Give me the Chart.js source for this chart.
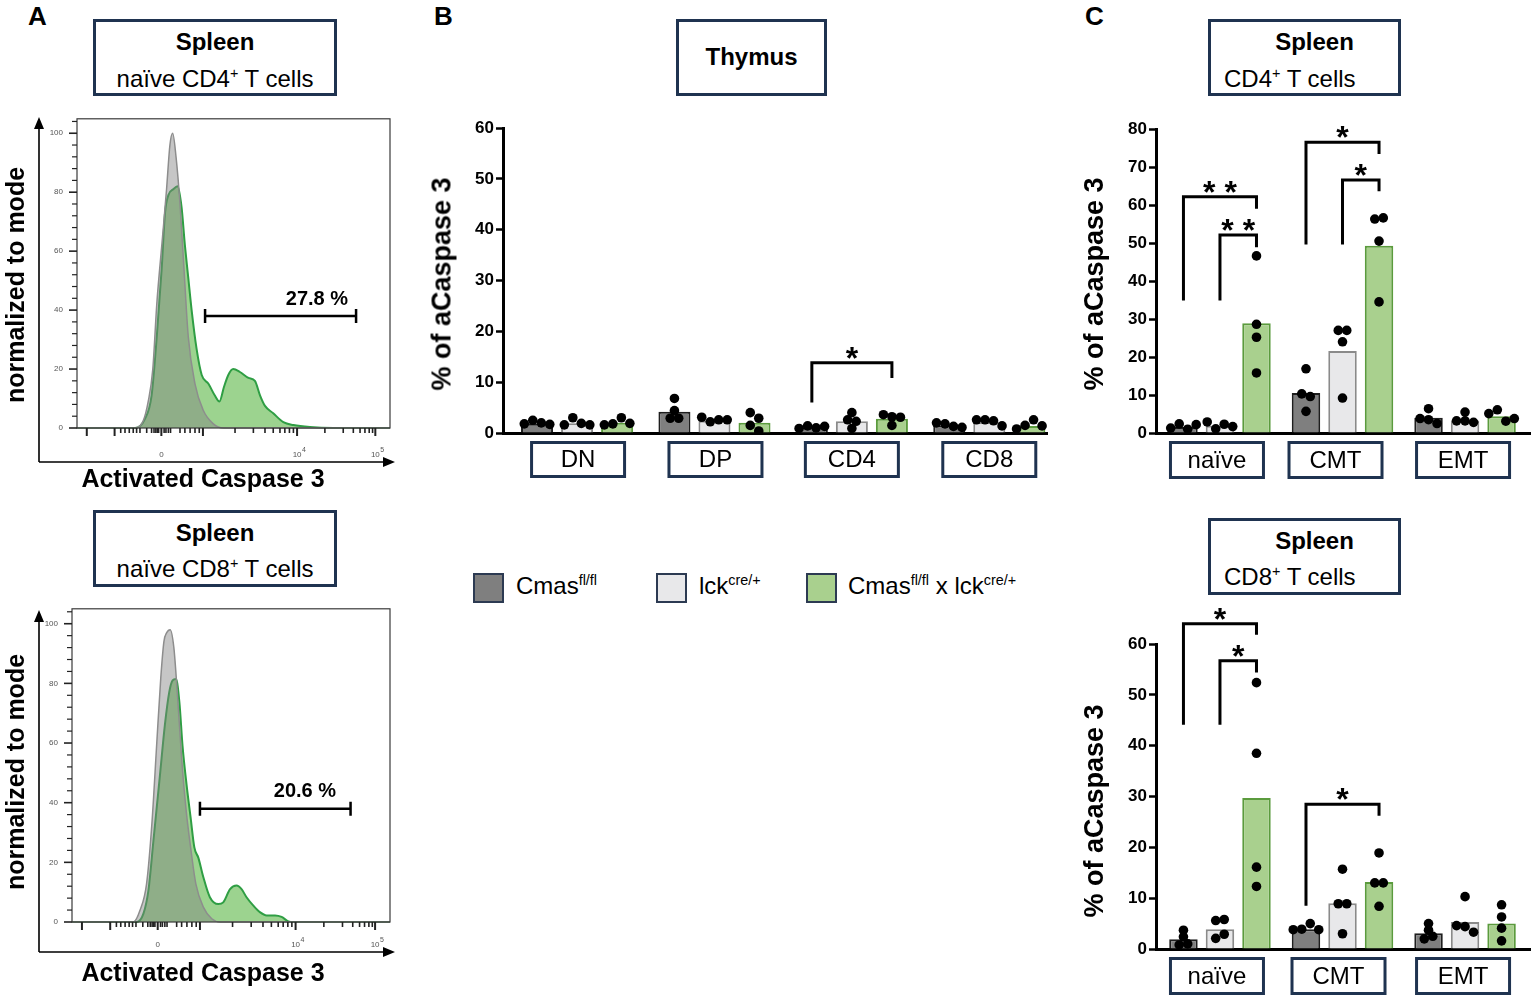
<!DOCTYPE html>
<html lang="en">
<head>
<meta charset="utf-8">
<title>Activated caspase 3</title>
<script src="https://cdn.jsdelivr.net/npm/chart.js@4.4.1/dist/chart.umd.min.js"></script>
<style>
  html, body { margin: 0; padding: 0; background: #fff; }
  body { position: relative; width: 1535px; height: 997px; overflow: hidden;
         font-family: "Liberation Sans", Arial, Helvetica, sans-serif; color: #000; }
  canvas { position: absolute; }
  .letter { position: absolute; font-weight: bold; font-size: 26px; line-height: 26px; }
  .tbox { position: absolute; box-sizing: border-box; border: 3px solid #1f3350; background: #fff; }
  .tbox div { position: absolute; white-space: nowrap; line-height: 28px; }
  .tbox .b { font-weight: bold; font-size: 24px; }
  .tbox .n { font-size: 24px; }
  sup { font-size: 60%; line-height: 0; vertical-align: 0; position: relative; top: -0.6em; }
  .rot { position: absolute; transform: translate(-50%, -50%) rotate(-90deg); white-space: nowrap; font-weight: bold; }
  .xlab { position: absolute; transform: translate(-50%, -50%); white-space: nowrap; font-weight: bold; font-size: 25px; }
  .leg { position: absolute; font-size: 24px; line-height: 30px; white-space: nowrap; }
  .sw { position: absolute; width: 31px; height: 30px; box-sizing: border-box; border: 2px solid #2c3a52; }
</style>
</head>
<body>

<canvas id="histCD4" width="410" height="400" style="left:0;top:100px;width:410px;height:400px"></canvas>
<canvas id="histCD8" width="410" height="400" style="left:0;top:590px;width:410px;height:400px"></canvas>
<canvas id="thymus" width="640" height="390" style="left:420px;top:100px;width:640px;height:390px"></canvas>
<canvas id="spleenCD4" width="470" height="390" style="left:1065px;top:100px;width:470px;height:390px"></canvas>
<canvas id="spleenCD8" width="470" height="409" style="left:1065px;top:588px;width:470px;height:409px"></canvas>

<div class="letter" style="left:28px;top:3px">A</div>
<div class="letter" style="left:434px;top:3px">B</div>
<div class="letter" style="left:1085px;top:3px">C</div>

<div class="tbox" style="left:93px;top:19px;width:244px;height:77px">
  <div class="b" style="left:0;right:0;text-align:center;top:6px">Spleen</div>
  <div class="n" style="left:0;right:0;text-align:center;top:43px">naïve CD4<sup>+</sup> T cells</div>
</div>
<div class="tbox" style="left:93px;top:510px;width:244px;height:77px">
  <div class="b" style="left:0;right:0;text-align:center;top:6px">Spleen</div>
  <div class="n" style="left:0;right:0;text-align:center;top:42px">naïve CD8<sup>+</sup> T cells</div>
</div>
<div class="tbox" style="left:676px;top:19px;width:151px;height:77px">
  <div class="b" style="left:0;right:0;text-align:center;top:21px">Thymus</div>
</div>
<div class="tbox" style="left:1208px;top:19px;width:193px;height:77px">
  <div class="b" style="left:20px;right:0;text-align:center;top:6px">Spleen</div>
  <div class="n" style="left:13px;top:43px">CD4<sup>+</sup> T cells</div>
</div>
<div class="tbox" style="left:1208px;top:518px;width:193px;height:77px">
  <div class="b" style="left:20px;right:0;text-align:center;top:6px">Spleen</div>
  <div class="n" style="left:13px;top:42px">CD8<sup>+</sup> T cells</div>
</div>

<div class="rot" style="left:15px;top:285px;font-size:25px">normalized to mode</div>
<div class="rot" style="left:15px;top:772px;font-size:25px">normalized to mode</div>
<div class="xlab" style="left:203px;top:478px">Activated Caspase 3</div>
<div class="xlab" style="left:203px;top:972px">Activated Caspase 3</div>
<div class="rot" style="left:442px;top:284px;font-size:27px">% of aCaspase 3</div>
<div class="rot" style="left:1094px;top:284px;font-size:27px">% of aCaspase 3</div>
<div class="rot" style="left:1094px;top:811px;font-size:27px">% of aCaspase 3</div>

<div class="sw" style="left:473px;top:573px;background:#7f7f7f"></div>
<div class="leg" style="left:516px;top:571px">Cmas<sup>fl/fl</sup></div>
<div class="sw" style="left:656px;top:573px;background:#e8e8ea"></div>
<div class="leg" style="left:699px;top:571px">lck<sup>cre/+</sup></div>
<div class="sw" style="left:806px;top:573px;background:#a9d08e"></div>
<div class="leg" style="left:848px;top:571px">Cmas<sup>fl/fl</sup> x lck<sup>cre/+</sup></div>

<script>
const FONT = '"Liberation Sans", Arial, sans-serif';

// ---------- A: histograms, x in display channels (0 - 1024) ----------
const cd4CtrlCh = [0, 190, 217, 233, 248, 261, 280, 293, 304, 313, 324, 337, 350, 364, 386, 413, 446, 479, 1024];
const cd4CtrlCount = [0, 0, 2.5, 9, 20, 42, 65, 81, 96, 100, 92, 76, 54, 31, 15, 6, 1.4, 0, 0];
const cd4KoCh = [0, 190, 222, 244, 261, 277, 288, 299, 315, 329, 342, 353, 364, 375, 391, 408, 430, 451, 466,
                 481, 495, 511, 533, 561, 582, 599, 615, 642, 675, 708, 762, 839, 1024];
const cd4KoCount = [0, 0, 3, 11, 31, 54, 73, 79, 81, 82, 75, 62, 51, 40, 27, 18, 15, 11, 9,
                    14, 18, 20, 19, 17, 16, 11, 7.5, 5, 2, 1, 0.3, 0, 0];
const cd8CtrlCh = [0, 198, 219, 240, 257, 273, 286, 296, 305, 316, 328, 339, 353, 367, 382, 399, 423, 450, 477, 1024];
const cd8CtrlCount = [0, 0, 3.9, 12.7, 32.6, 60, 82, 94, 97, 98, 92, 77, 55, 38, 25, 12.7, 5, 1.1, 0, 0];
const cd8KoCh = [0, 208, 230, 246, 262, 283, 299, 313, 324, 335, 346, 356, 369, 382, 394, 407, 423, 444, 471,
                 487, 509, 530, 546, 562, 584, 605, 627, 654, 675, 697, 713, 1024];
const cd8KoCount = [0, 0, 2.8, 10.5, 27, 49, 66, 77, 81, 81.5, 73.5, 59, 46, 35, 25, 21.5, 15, 8.3, 6,
                    6.6, 11, 12.2, 11, 8.3, 5.5, 3.3, 2.2, 2.2, 1.7, 0.2, 0, 0];
const histMajorTicks = [32, 123, 276, 412, 720, 976];
const histMinorTicks = [143, 157, 171, 184, 195, 206, 228, 244, 252, 258, 263, 267, 285, 291, 299, 306,
                        337, 353, 370, 386, 400, 517, 577, 615, 642, 664, 680, 695, 708,
                        811, 871, 904, 926, 942, 956, 967];
const histTickLabels = [[276, "0", ""], [720, "10", "4"], [976, "10", "5"]];
const histYLabels = [0, 20, 40, 60, 80, 100];
// [from, to, level, text, text x, text y]
const cd4Gate = [419, 913, 38, "27.8 %", 785, 43.6];
const cd8Gate = [412, 897, 38, "20.6 %", 750, 43.6];

// ---------- B: thymus ----------
const thymusCats = ["DN", "DP", "CD4", "CD8"];
const thymusCmas = [1.8, 4.2, 1.1, 1.5];
const thymusLck = [1.9, 2.4, 2.3, 2.1];
const thymusKo = [2.0, 2.0, 2.8, 1.4];
const thymusCmasDots = [[1.8, 2.5, 2.0, 1.7], [6.8, 4.4, 2.9, 2.9], [0.9, 1.4, 1.0, 1.3], [2.0, 1.8, 1.3, 1.1]];
const thymusLckDots = [[1.6, 3.0, 1.9, 1.6], [3.1, 2.2, 2.6, 2.6], [4.0, 2.6, 2.3, 0.9], [2.6, 2.6, 2.4, 1.4]];
const thymusKoDots = [[1.6, 1.8, 3.0, 1.9], [4.0, 2.9, 1.5, 0.4], [3.6, 3.2, 3.1, 1.5], [0.8, 1.5, 2.6, 1.4]];
const thymusTicks = [0, 10, 20, 30, 40, 50, 60];
// [category, from bar, to bar, top, left leg end, right leg end, stars]
const thymusSig = [[2, 0, 2, 13.8, 6.0, 10.8, "*"]];

// ---------- C: spleen subsets ----------
const subsetCats = ["naïve", "CMT", "EMT"];
const cd4Cmas = [1.6, 10.5, 4.0];
const cd4Lck = [1.9, 21.6, 3.3];
const cd4Ko = [28.9, 49.3, 4.4];
const cd4CmasDots = [[1.3, 2.4, 1.0, 2.2], [16.9, 10.3, 9.6, 5.7], [6.4, 3.8, 3.5, 2.5]];
const cd4LckDots = [[2.9, 1.1, 2.3, 1.7], [27.0, 27.0, 24.0, 9.2], [5.5, 3.2, 3.2, 2.8]];
const cd4KoDots = [[46.6, 28.6, 25.2, 15.8], [56.3, 56.6, 50.5, 34.5], [5.1, 6.1, 3.1, 3.8]];
const cd4Ticks = [0, 10, 20, 30, 40, 50, 60, 70, 80];
const cd4Sig = [[0, 0, 2, 62.2, 34.9, 59.0, "* *"], [0, 1, 2, 52.1, 34.9, 48.9, "* *"],
                [1, 0, 2, 76.5, 49.6, 73.4, "*"], [1, 1, 2, 66.6, 49.6, 63.6, "*"]];

const cd8Cmas = [1.9, 3.9, 3.1];
const cd8Lck = [3.9, 9.0, 5.3];
const cd8Ko = [29.7, 13.2, 5.0];
const cd8CmasDots = [[3.7, 2.4, 0.8, 1.0], [3.8, 3.9, 5.0, 3.8], [5.0, 3.7, 2.0, 2.5]];
const cd8LckDots = [[5.6, 5.8, 2.1, 2.9], [15.7, 8.9, 8.9, 3.0], [10.3, 4.6, 4.4, 3.3]];
const cd8KoDots = [[52.4, 38.5, 16.1, 12.3], [18.9, 13.0, 13.0, 8.4], [8.7, 6.3, 4.1, 1.6]];
const cd8Ticks = [0, 10, 20, 30, 40, 50, 60];
const cd8Sig = [[0, 0, 2, 64.0, 44.1, 61.8, "*"], [0, 1, 2, 56.7, 44.1, 54.4, "*"],
                [1, 0, 2, 28.5, 8.5, 26.2, "*"]];

const barFill = ["#7f7f7f", "#e8e8ea", "#a9d08e"];
const barEdge = ["#1e1e1e", "#8a8a8a", "#5b9b3d"];

function pts(xs, ys) {
  return xs.map((v, i) => ({ x: v, y: ys[i] }));
}

// histogram overlay (panel A)
function histChart(id, geo, ctrlCh, ctrlCount, koCh, koCount, gate) {
  const [cl, ct, cw, ch] = geo.canvas;
  const [l, t, r, b] = geo.area;

  const art = {
    id: "histArt",
    afterDraw(chart) {
      const { ctx, chartArea: a, scales: { x, y } } = chart;
      ctx.save();
      ctx.strokeStyle = "#3a3a3a";
      ctx.lineWidth = 1.2;
      ctx.strokeRect(a.left, a.top, a.right - a.left, a.bottom - a.top);

      // y tick marks, minor every 4
      ctx.strokeStyle = "#222";
      for (let v = 0; v <= 104; v += 4) {
        const py = y.getPixelForValue(v);
        const major = v % 20 === 0;
        ctx.lineWidth = major ? 1.6 : 1.2;
        ctx.beginPath();
        ctx.moveTo(a.left - (major ? 8 : 5), py);
        ctx.lineTo(a.left, py);
        ctx.stroke();
      }
      // x tick marks
      histMajorTicks.forEach(c => {
        const px = x.getPixelForValue(c);
        ctx.lineWidth = 2;
        ctx.beginPath(); ctx.moveTo(px, a.bottom); ctx.lineTo(px, a.bottom + 8); ctx.stroke();
      });
      histMinorTicks.forEach(c => {
        const px = x.getPixelForValue(c);
        ctx.lineWidth = 1.6;
        ctx.beginPath(); ctx.moveTo(px, a.bottom); ctx.lineTo(px, a.bottom + 5); ctx.stroke();
      });
      ctx.fillStyle = "#555";
      ctx.textBaseline = "middle";
      histTickLabels.forEach(([c, base, sup]) => {
        const px = x.getPixelForValue(c);
        ctx.font = "8px " + FONT;
        ctx.textAlign = "center";
        ctx.fillText(base, px, a.bottom + geo.labelGap);
        if (sup) {
          const w = ctx.measureText(base).width;
          ctx.font = "7px " + FONT;
          ctx.textAlign = "left";
          ctx.fillText(sup, px + w / 2 + 0.5, a.bottom + geo.labelGap - 5);
        }
      });

      // outer arrows
      const [ax, ay, aTop, aRight] = geo.arrows;
      ctx.strokeStyle = "#000";
      ctx.fillStyle = "#000";
      ctx.lineWidth = 1.6;
      ctx.beginPath();
      ctx.moveTo(ax, ay); ctx.lineTo(ax, aTop + 10);
      ctx.moveTo(ax, ay); ctx.lineTo(aRight - 10, ay);
      ctx.stroke();
      ctx.beginPath();
      ctx.moveTo(ax, aTop); ctx.lineTo(ax - 5, aTop + 12); ctx.lineTo(ax + 5, aTop + 12); ctx.closePath();
      ctx.moveTo(aRight, ay); ctx.lineTo(aRight - 12, ay - 5); ctx.lineTo(aRight - 12, ay + 5); ctx.closePath();
      ctx.fill();

      // gate
      const [g0, g1, gy, gText, gtx, gty] = gate;
      const x0 = x.getPixelForValue(g0), x1 = x.getPixelForValue(g1), py = y.getPixelForValue(gy);
      ctx.lineWidth = 2.5;
      ctx.beginPath();
      ctx.moveTo(x0, py); ctx.lineTo(x1, py);
      ctx.moveTo(x0, py - 7); ctx.lineTo(x0, py + 7);
      ctx.moveTo(x1, py - 7); ctx.lineTo(x1, py + 7);
      ctx.stroke();
      ctx.font = "bold 20px " + FONT;
      ctx.textAlign = "center";
      ctx.textBaseline = "middle";
      ctx.fillText(gText, x.getPixelForValue(gtx), y.getPixelForValue(gty));
      ctx.restore();
    }
  };

  return new Chart(document.getElementById(id), {
    type: "line",
    data: {
      datasets: [
        {
          data: pts(ctrlCh, ctrlCount),
          borderColor: "#8d8d8d",
          borderWidth: 1.5,
          backgroundColor: "rgba(128,128,128,0.45)",
          fill: "origin",
          order: 0
        },
        {
          data: pts(koCh, koCount),
          borderColor: "#2f9e44",
          borderWidth: 2,
          backgroundColor: "#9cd38f",
          fill: "origin",
          order: 1
        }
      ]
    },
    options: {
      responsive: false,
      animation: false,
      events: [],
      layout: { padding: { left: 0, top: t - ct, right: cw - (r - cl), bottom: 0 } },
      elements: { point: { radius: 0 }, line: { cubicInterpolationMode: "monotone" } },
      clip: 4,
      plugins: { legend: { display: false }, tooltip: { enabled: false } },
      scales: {
        x: {
          type: "linear", min: 0, max: 1024, offset: false,
          ticks: { display: false },
          grid: { display: false, drawTicks: false },
          border: { display: false },
          afterFit: s => { s.height = ct + ch - b; }
        },
        y: {
          min: 0, max: geo.yMax,
          afterBuildTicks: s => { s.ticks = histYLabels.map(v => ({ value: v })); },
          ticks: { font: { family: FONT, size: 8 }, color: "#555", padding: 14 },
          grid: { display: false, drawTicks: false },
          border: { display: false },
          afterFit: s => { s.width = l - cl; }
        }
      }
    },
    plugins: [art]
  });
}

// spread dots of similar value side by side
function swarm(vals, pxX, pxY) {
  const order = vals.map((v, i) => i).sort((a, b) => vals[a] - vals[b]);
  const offs = vals.map(() => 0);
  let cluster = [order[0]];
  let last = vals[order[0]];
  const flush = () => {
    cluster.sort((a, b) => a - b);
    cluster.forEach((idx, j) => { offs[idx] = (j - (cluster.length - 1) / 2) * 8.5 / pxX; });
  };
  for (let i = 1; i < order.length; i++) {
    const v = vals[order[i]];
    if ((v - last) * pxY < 6) cluster.push(order[i]);
    else { flush(); cluster = [order[i]]; }
    last = v;
  }
  flush();
  return offs;
}

// bar + dot panel (B and C)
function barChart(id, geo, cats, bars, dots, yTicks, sig) {
  const [cl, ct, cw, ch] = geo.canvas;
  const [l, t, r, b] = geo.area;
  const yMax = yTicks[yTicks.length - 1];
  const pxX = (r - l) / (geo.xMax - geo.xMin);
  const pxY = (b - t) / yMax;
  const step = geo.catPct / 3;
  const barX = (c, k) => c + (k - 1) * step;

  const datasets = [];
  bars.forEach((vals, k) => {
    datasets.push({
      type: "bar",
      data: vals.map((v, i) => ({ x: i, y: v })),
      backgroundColor: barFill[k],
      borderColor: barEdge[k],
      borderWidth: 2,
      categoryPercentage: geo.catPct,
      barPercentage: geo.barPct,
      order: 1
    });
  });
  dots.forEach((groups, k) => {
    const p = [];
    groups.forEach((vals, c) => {
      const offs = swarm(vals, pxX, pxY);
      vals.forEach((v, j) => p.push({ x: barX(c, k) + offs[j], y: v }));
    });
    datasets.push({
      type: "scatter",
      data: p,
      pointRadius: 4.8,
      pointBackgroundColor: "#000",
      pointBorderWidth: 0,
      order: 0
    });
  });

  const art = {
    id: "barArt",
    afterDraw(chart) {
      const { ctx, chartArea: a, scales: { x, y } } = chart;
      ctx.save();
      ctx.strokeStyle = "#000";
      ctx.fillStyle = "#000";
      ctx.lineWidth = 3;
      ctx.lineJoin = "miter";
      sig.forEach(([c, i, j, top, endI, endJ, stars]) => {
        const xi = x.getPixelForValue(barX(c, i)), xj = x.getPixelForValue(barX(c, j));
        const yt = y.getPixelForValue(top);
        ctx.beginPath();
        ctx.moveTo(xi, y.getPixelForValue(endI));
        ctx.lineTo(xi, yt);
        ctx.lineTo(xj, yt);
        ctx.lineTo(xj, y.getPixelForValue(endJ));
        ctx.stroke();
        ctx.font = "bold 32px " + FONT;
        ctx.textAlign = "center";
        ctx.textBaseline = "alphabetic";
        ctx.fillText(stars, (xi + xj) / 2, yt + 6);
      });
      // category label boxes
      cats.forEach((name, i) => {
        const cx = x.getPixelForValue(i) + geo.boxShift[i];
        const top = a.bottom + 8;
        ctx.strokeStyle = "#1f3350";
        ctx.lineWidth = 3;
        ctx.strokeRect(cx - 46.5, top + 1.5, 93, geo.boxH - 3);
        ctx.font = "24px " + FONT;
        ctx.textAlign = "center";
        ctx.textBaseline = "middle";
        ctx.fillText(name, cx, top + geo.boxH / 2 + 1);
      });
      ctx.restore();
    }
  };

  return new Chart(document.getElementById(id), {
    type: "bar",
    data: { datasets },
    options: {
      responsive: false,
      animation: false,
      events: [],
      layout: { padding: { left: 0, top: t - ct, right: cw - (r - cl), bottom: 0 } },
      plugins: { legend: { display: false }, tooltip: { enabled: false } },
      scales: {
        x: {
          type: "linear", min: geo.xMin, max: geo.xMax, offset: false,
          afterBuildTicks: s => { s.ticks = cats.map((c, i) => ({ value: i })); },
          ticks: { display: false },
          grid: { display: false, drawTicks: false, offset: false },
          border: { display: true, color: "#000", width: 3 },
          afterFit: s => { s.height = ct + ch - b; }
        },
        y: {
          min: 0, max: yMax,
          afterBuildTicks: s => { s.ticks = yTicks.map(v => ({ value: v })); },
          ticks: { font: { family: FONT, size: 17, weight: "bold" }, color: "#000", padding: 2 },
          grid: { drawOnChartArea: false, tickLength: 7, tickWidth: 2.5, color: "#000" },
          border: { color: "#000", width: 3 },
          afterFit: s => { s.width = l - cl; }
        }
      }
    },
    plugins: [art]
  });
}

histChart("histCD4",
  { canvas: [0, 100, 410, 400], area: [77, 112, 390, 428], yMax: 104.9, labelGap: 27, arrows: [39, 362, 17, 395] },
  cd4CtrlCh, cd4CtrlCount, cd4KoCh, cd4KoCount, cd4Gate);
histChart("histCD8",
  { canvas: [0, 590, 410, 400], area: [72, 605, 390, 922], yMax: 105, labelGap: 23, arrows: [39, 362, 20, 395] },
  cd8CtrlCh, cd8CtrlCount, cd8KoCh, cd8KoCount, cd8Gate);

barChart("thymus",
  { canvas: [420, 100, 640, 390], area: [503, 128, 1047, 433], xMin: -0.539, xMax: 3.42,
    catPct: 0.874, barPct: 0.8, boxShift: [1, 1, 0, 0], boxH: 37 },
  thymusCats, [thymusCmas, thymusLck, thymusKo], [thymusCmasDots, thymusLckDots, thymusKoDots],
  thymusTicks, thymusSig);
barChart("spleenCD4",
  { canvas: [1065, 100, 470, 390], area: [1156, 129, 1530, 433], xMin: -0.522, xMax: 2.53,
    catPct: 0.894, barPct: 0.78, boxShift: [-3, -7, -2], boxH: 38 },
  subsetCats, [cd4Cmas, cd4Lck, cd4Ko], [cd4CmasDots, cd4LckDots, cd4KoDots], cd4Ticks, cd4Sig);
barChart("spleenCD8",
  { canvas: [1065, 588, 470, 409], area: [1156, 644, 1530, 949], xMin: -0.522, xMax: 2.53,
    catPct: 0.894, barPct: 0.78, boxShift: [-3, -4, -2], boxH: 38 },
  subsetCats, [cd8Cmas, cd8Lck, cd8Ko], [cd8CmasDots, cd8LckDots, cd8KoDots], cd8Ticks, cd8Sig);
</script>
</body>
</html>
